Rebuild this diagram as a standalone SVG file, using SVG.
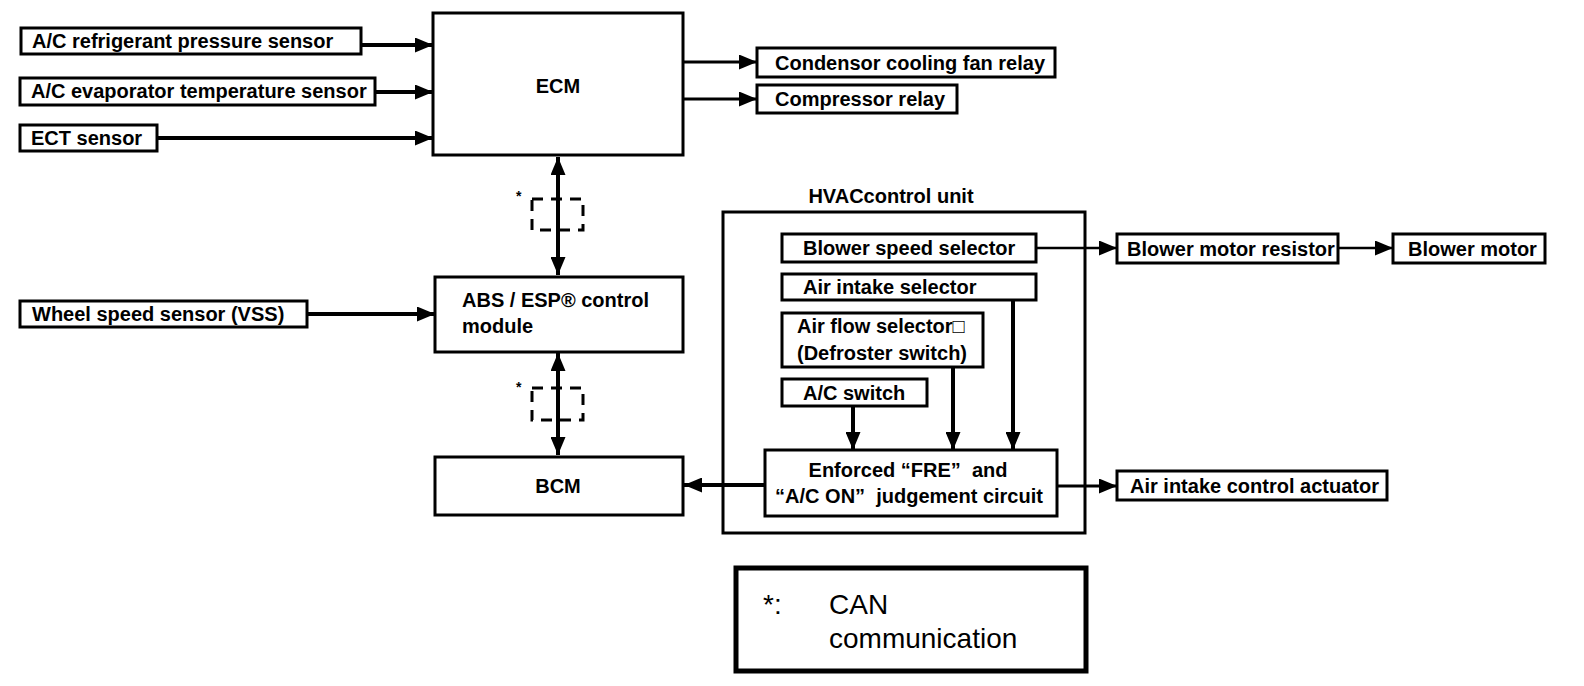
<svg xmlns="http://www.w3.org/2000/svg" width="1584" height="686" viewBox="0 0 1584 686">
<style>
  .box { fill: #fff; stroke: #000; stroke-width: 3; }
  .t { font-family: "Liberation Sans", Arial, sans-serif; font-size: 20px; font-weight: bold; fill: #000; }
  .tc { text-anchor: middle; }
  .ln { fill: none; stroke: #000; stroke-width: 4; }
  .ln3 { fill: none; stroke: #000; stroke-width: 3; }
  .ln2 { fill: none; stroke: #000; stroke-width: 2.5; }
  .dash { fill: none; stroke: #000; stroke-width: 3; stroke-dasharray: 11 8; }
  .leg { font-family: "Liberation Sans", Arial, sans-serif; font-size: 28px; fill: #000; }
</style>
<defs>
  <marker id="ah" markerUnits="userSpaceOnUse" markerWidth="18" markerHeight="15" refX="18" refY="7.5" orient="auto-start-reverse">
    <path d="M0,0 L18,7.5 L0,15 z" fill="#000"/>
  </marker>
</defs>
<rect width="1584" height="686" fill="#fff"/>

<g id="connectors">
  <line class="ln" x1="361" y1="45" x2="433" y2="45" marker-end="url(#ah)"/>
  <line class="ln" x1="375" y1="92" x2="433" y2="92" marker-end="url(#ah)"/>
  <line class="ln" x1="157" y1="138" x2="433" y2="138" marker-end="url(#ah)"/>
  <line class="ln3" x1="683" y1="62" x2="757" y2="62" marker-end="url(#ah)"/>
  <line class="ln3" x1="683" y1="99" x2="757" y2="99" marker-end="url(#ah)"/>
  <line class="ln" x1="558" y1="157" x2="558" y2="275" marker-start="url(#ah)" marker-end="url(#ah)"/>
  <line class="ln" x1="558" y1="353" x2="558" y2="455" marker-start="url(#ah)" marker-end="url(#ah)"/>
  <line class="ln" x1="307" y1="314" x2="435" y2="314" marker-end="url(#ah)"/>
  <line class="ln2" x1="1036" y1="248" x2="1117" y2="248" marker-end="url(#ah)"/>
  <line class="ln2" x1="1338" y1="248" x2="1393" y2="248" marker-end="url(#ah)"/>
  <line class="ln" x1="1013" y1="300" x2="1013" y2="450" marker-end="url(#ah)"/>
  <line class="ln" x1="953" y1="367" x2="953" y2="450" marker-end="url(#ah)"/>
  <line class="ln" x1="853" y1="406" x2="853" y2="450" marker-end="url(#ah)"/>
  <line class="ln" x1="765" y1="485" x2="684" y2="485" marker-end="url(#ah)"/>
  <line class="ln3" x1="1057" y1="486" x2="1117" y2="486" marker-end="url(#ah)"/>
  <rect class="dash" x="532" y="199" width="51" height="31"/>
  <rect class="dash" x="532" y="388" width="51" height="32"/>
  <text class="t" x="516" y="201" style="font-size:14px">*</text>
  <text class="t" x="516" y="392" style="font-size:14px">*</text>
</g>

<g id="ref-pressure">
  <rect class="box" x="21" y="28" width="340" height="26"/>
  <text class="t" x="32" y="48">A/C refrigerant pressure sensor</text>
</g>
<g id="evap-temp">
  <rect class="box" x="20" y="78" width="355" height="27"/>
  <text class="t" x="31" y="98">A/C evaporator temperature sensor</text>
</g>
<g id="ect">
  <rect class="box" x="20" y="125" width="137" height="26"/>
  <text class="t" x="31" y="145">ECT sensor</text>
</g>
<g id="ecm">
  <rect class="box" x="433" y="13" width="250" height="142"/>
  <text class="t tc" x="558" y="93">ECM</text>
</g>
<g id="condensor">
  <rect class="box" x="757" y="48" width="298" height="29"/>
  <text class="t" x="775" y="70">Condensor cooling fan relay</text>
</g>
<g id="compressor">
  <rect class="box" x="757" y="85" width="200" height="28"/>
  <text class="t" x="775" y="106">Compressor relay</text>
</g>
<g id="wheel-speed">
  <rect class="box" x="20" y="301" width="287" height="26"/>
  <text class="t" x="32" y="321">Wheel speed sensor (VSS)</text>
</g>
<g id="abs">
  <rect class="box" x="435" y="277" width="248" height="75"/>
  <text class="t" x="462" y="307">ABS / ESP® control</text>
  <text class="t" x="462" y="333">module</text>
</g>
<g id="bcm">
  <rect class="box" x="435" y="457" width="248" height="58"/>
  <text class="t tc" x="558" y="493">BCM</text>
</g>
<g id="hvac">
  <rect class="box" x="723" y="212" width="362" height="321" fill="none" style="fill:none"/>
  <text class="t tc" x="891" y="203">HVACcontrol unit</text>
</g>
<g id="blower-speed">
  <rect class="box" x="782" y="234" width="254" height="28"/>
  <text class="t" x="803" y="255">Blower speed selector</text>
</g>
<g id="air-intake-sel">
  <rect class="box" x="782" y="274" width="254" height="26"/>
  <text class="t" x="803" y="294">Air intake selector</text>
</g>
<g id="air-flow-sel">
  <rect class="box" x="782" y="313" width="201" height="54"/>
  <text class="t" x="797" y="333">Air flow selector□</text>
  <text class="t" x="797" y="360">(Defroster switch)</text>
</g>
<g id="ac-switch">
  <rect class="box" x="782" y="379" width="145" height="27"/>
  <text class="t" x="803" y="400">A/C switch</text>
</g>
<g id="judgement">
  <rect class="box" x="765" y="450" width="292" height="66"/>
  <text class="t tc" x="908" y="477" xml:space="preserve">Enforced “FRE”  and</text>
  <text class="t tc" x="909" y="503" xml:space="preserve">“A/C ON”  judgement circuit</text>
</g>
<g id="blower-resistor">
  <rect class="box" x="1117" y="234" width="221" height="29"/>
  <text class="t" x="1127" y="256">Blower motor resistor</text>
</g>
<g id="blower-motor">
  <rect class="box" x="1393" y="234" width="152" height="29"/>
  <text class="t" x="1408" y="256">Blower motor</text>
</g>
<g id="air-intake-actuator">
  <rect class="box" x="1117" y="471" width="270" height="29"/>
  <text class="t" x="1130" y="493">Air intake control actuator</text>
</g>
<g id="legend">
  <rect x="736" y="568" width="350" height="103" fill="#fff" stroke="#000" stroke-width="5"/>
  <text class="leg" x="763" y="614">*:</text>
  <text class="leg" x="829" y="614">CAN</text>
  <text class="leg" x="829" y="648">communication</text>
</g>
</svg>
